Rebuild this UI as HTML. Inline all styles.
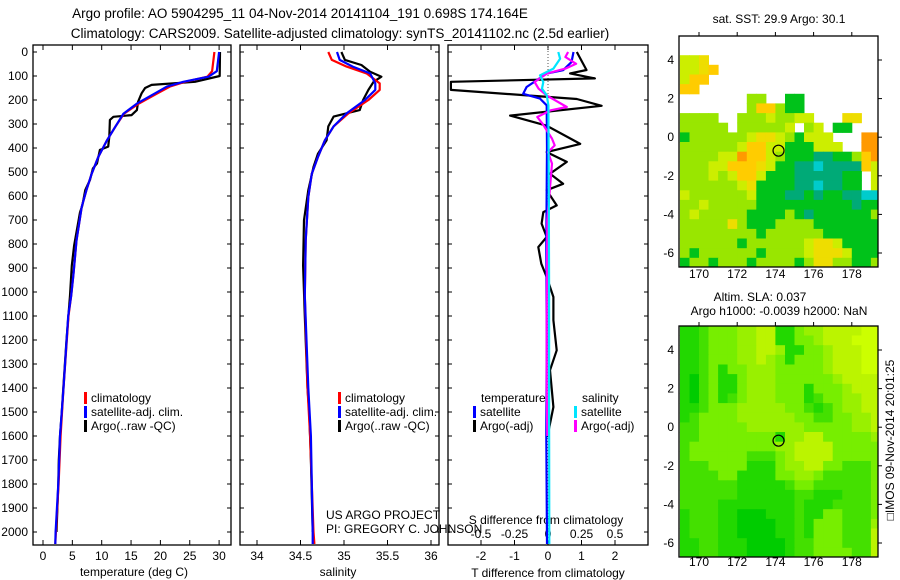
<!DOCTYPE html>
<html><head><meta charset="utf-8"><style>
html,body{margin:0;padding:0;background:#fff;}
svg{display:block;font-family:"Liberation Sans",sans-serif;}
text{fill:#000;}
</style></head><body>
<svg id="chart" width="900" height="580" viewBox="0 0 900 580" xmlns="http://www.w3.org/2000/svg">
<defs>
<clipPath id="c1"><rect x="33" y="45" width="198" height="500"/></clipPath>
<clipPath id="c2"><rect x="240" y="45" width="199" height="500"/></clipPath>
<clipPath id="c3"><rect x="448" y="45" width="200" height="500"/></clipPath>
<clipPath id="cm1"><rect x="679" y="36" width="199" height="231"/></clipPath>
<clipPath id="cm2"><rect x="679" y="326" width="199" height="231"/></clipPath>
</defs>
<text x="300" y="18" font-size="13.5" text-anchor="middle">Argo profile: AO 5904295_11 04-Nov-2014 20141104_191 0.698S 174.164E</text>
<text x="340" y="38" font-size="13.5" text-anchor="middle">Climatology: CARS2009. Satellite-adjusted climatology: synTS_20141102.nc (2.5d earlier)</text>
<text x="779" y="23" font-size="12" text-anchor="middle">sat. SST: 29.9 Argo: 30.1</text>
<text x="760" y="301" font-size="12" text-anchor="middle">Altim. SLA: 0.037</text>
<text x="779" y="315" font-size="12" text-anchor="middle">Argo h1000: -0.0039 h2000: NaN</text>
<text transform="translate(894,440) rotate(-90)" font-size="12" text-anchor="middle">□IMOS 09-Nov-2014 20:01:25</text>
<text x="326" y="519" font-size="12">US ARGO PROJECT</text>
<text x="326" y="533" font-size="12">PI: GREGORY C. JOHNSON</text>
</svg>
<script>
// ---------- data ----------
const depthTicks = [0,100,200,300,400,500,600,700,800,900,1000,1100,1200,1300,1400,1500,1600,1700,1800,1900,2000];
const tempTicks = [0,5,10,15,20,25,30];
const salTicks = [34,34.5,35,35.5,36];
const dTTicks = [-2,-1,0,1,2];
const dSTicks = [-0.5,-0.25,0,0.25,0.5];
const dSTickLabels = ["-0.5","-0.25","0","0.25","0.5"];
const lonTicks = [170,172,174,176,178];
const latTicks = [4,2,0,-2,-4,-6];

const argoTempDepth = [0,100,124,137,150,172,207,242,263,270,283,353,394,408,464,485,533,575,640,668,807,890,1015,1200,1400,1500,1600,1700,1800,1900,2000];
const argoTemp =      [30.15,30.1,25.9,18.5,17.4,16.8,16.2,16.0,15.1,12.0,11.4,11.3,11.1,9.7,9.2,8.5,8.0,7.2,6.7,6.3,5.3,4.9,4.6,4.0,3.46,3.2,2.9,2.7,2.6,2.45,2.3];
const climDepth = [0,80,103,124,144,172,215,257,312,368,438,507,576,646,785,924,1015,1100,1400,1600,1800,2000,2050];
const satTemp =   [30.0,29.6,28.2,23.9,21.1,19.1,16.0,13.7,12.3,10.9,9.4,8.3,7.4,6.6,5.7,5.2,4.8,4.3,3.5,2.9,2.6,2.15,2.1];
const climTemp =  [29.2,28.8,28.0,24.2,21.6,19.5,16.3,13.8,12.3,10.9,9.4,8.3,7.4,6.6,5.7,5.2,4.8,4.35,3.5,3.0,2.65,2.2,2.1];

const argoSalDepth = [0,33,54,82,103,124,158,200,242,269,310,368,424,479,576,701,890,1100,1400,1500,1700,2000];
const argoSal =      [34.97,35.01,35.2,35.3,35.43,35.34,35.28,35.22,35.18,34.88,34.82,34.8,34.70,34.65,34.59,34.54,34.53,34.55,34.58,34.6,34.62,34.64];
const salDepth = [0,33,61,89,131,158,200,256,310,368,438,507,604,785,1015,1400,1600,1800,2000,2050];
const satSal =   [34.92,34.95,35.1,35.3,35.36,35.36,35.24,35.03,34.88,34.78,34.7,34.63,34.59,34.56,34.55,34.59,34.62,34.63,34.64,34.64];
const climSal =  [34.82,34.86,35.03,35.26,35.41,35.41,35.28,35.05,34.88,34.78,34.7,34.63,34.59,34.56,34.55,34.58,34.61,34.63,34.65,34.66];

const argoDTDepth = [0,75,89,110,124,158,196,224,265,307,383,417,458,507,549,576,639,667,715,771,813,882,938,1021,1118,1243,1326,1479,1604];
const argoDT =      [0.86,1.15,0.66,1.4,-2.9,-2.9,0.86,1.6,-1.13,-0.04,0.96,-0.04,0.56,0.06,0.45,-0.04,0.26,-0.14,-0.19,-0.04,-0.29,-0.2,-0.04,0.16,0.16,0.26,0.06,0.16,-0.02];
const satDTDepth = [0,42,76,90,118,146,174,194,222,400,800,1200,1600,2050];
const satDT =      [0.76,0.7,0.45,-0.04,-0.34,-0.64,-0.74,-0.24,-0.04,-0.03,-0.05,-0.04,-0.05,-0.03];
const satDSDepth = [0,28,69,97,125,153,180,222,600,1000,1500,2050];
const satDS =      [0.077,0.09,0.04,-0.06,-0.035,-0.045,-0.01,0.003,0.006,0.008,0.008,0.01];
const argoDSDepth = [0,21,49,69,90,125,153,181,229,243,271,299,361,389,417,465,700,1100,1400,1600];
const argoDS =      [0.15,0.13,0.21,0.13,-0.01,-0.1,-0.07,-0.01,0.14,0.02,-0.08,-0.04,0.03,0.05,0.0,0.03,-0.005,-0.01,-0.01,-0.005];

const sstRows = [
".....................",
".....................",
"aae..................",
"aaeY.................",
"aYY..................",
"YY...................",
".......bb..GG........",
".......bYYbGG........",
"bbbb..bbbabbaa...ee..",
"bbbbb.bbbbba.ba.GG...",
"GbbbbbbaeeabGaaa...oo",
"bbbbbbaYYaaGGGaaa..oo",
"bbbbaaoYYabGGGttGGbYo",
"bbbaaYYYeaGGttcttttYa",
"bbbabaYYaGGGtttttGG.a",
"bbbbbbaeGGGGttcttGG.a",
"abbbbbbaGGGttGtGGttcc",
"bbabbbbbGGGGGGGGGGtGG",
"babbbbbGGGGbGtGGGGGGb",
"bbbbbebGGGbbbbGGGGGGG",
"bbbbbbbbGbbbbbbGGGGGG",
"bbbbbbGbbbbbbaeeaGGGG",
"bGbbbbbbGbbbbaeeeaGGG",
"GbbGbbbGbbbbGbeebbGGb"];
const slaRows = [
"223444556622455666677",
"223444556622445666777",
"223444556652244566677",
"223444556542444566677",
"223424455544444566677",
"213422455544444456666",
"213422455544424445666",
"213423455544423445566",
"223444555554432345566",
"234444555555443344556",
"334444455555544444556",
"334444444425566444445",
"344444444455666644444",
"344444433345666644444",
"333444422245566443334",
"333344222244554333334",
"333333222223443333334",
"333333222222332223334",
"333322222222322233334",
"233322111222322443334",
"233322111122324443335",
"233322111122324443336",
"223322211112334443336",
"223322211112334444336"];
const gridLon0 = 169.0, gridLat0 = 5.25, gridStep = 0.5;
const argoLon = 174.164, argoLat = -0.698;

// ---------- helpers ----------
const NS = "http://www.w3.org/2000/svg";
const svg = document.getElementById('chart');
function mk(tag, attrs, parent) {
  const el = document.createElementNS(NS, tag);
  for (const k in attrs) el.setAttribute(k, attrs[k]);
  (parent || svg).appendChild(el);
  return el;
}
const yD = d => 52 + d * 0.24;
const xT = t => 43 + t * 5.87;
const xS = s => 257 + (s - 34) * 87;
const xdT = t => 548 + t * 33.5;
const xdS = s => 548 + s * 134;
const mapX = lon => 699 + (lon - 170) * 19.1;
const mapY1 = lat => 60 + (4 - lat) * 19.3;
const mapY2 = lat => 350 + (4 - lat) * 19.3;

function frame(x, y, w, h, name) {
  const r = mk('rect', {x:x, y:y, width:w, height:h, fill:'none', stroke:'#000', 'stroke-width':1.3});
  
  
}
function line(xs, ys, color, clip, name, w) {
  const g = mk('g', {'clip-path':'url(#' + clip + ')'});
  const p = xs.map((x, i) => (i ? 'L' : 'M') + x.toFixed(1) + ',' + ys[i].toFixed(1)).join('');
  const el = mk('path', {d:p, fill:'none', stroke:color, 'stroke-width':w || 2.2, 'stroke-linejoin':'round'}, g);
  
  
}
function label(x, y, s, anchor, name, size) {
  const t = mk('text', {x:x, y:y, 'font-size':size || 12, 'text-anchor':anchor || 'middle'});
  t.textContent = s;
  
  
  return t;
}
function tick(x1, y1, x2, y2, name) {
  const t = mk('line', {x1:x1, y1:y1, x2:x2, y2:y2, stroke:'#000', 'stroke-width':1});
  
  
}

// ---------- profile panels ----------
const panels = [[33,231],[240,439],[448,648]];
panels.forEach((p, i) => {
  frame(p[0], 45, p[1] - p[0], 500, 'panel-' + (i + 1) + '-frame');
  depthTicks.forEach(d => {
    tick(p[0], yD(d), p[0] + 4, yD(d), 'depth-tick');
    tick(p[1] - 4, yD(d), p[1], yD(d), 'depth-tick');
  });
});
depthTicks.forEach(d => label(28, yD(d) + 4, String(d), 'end', 'depth-tick-label'));
tempTicks.forEach(t => {
  tick(xT(t), 45, xT(t), 50, 'temp-tick');
  tick(xT(t), 540, xT(t), 545, 'temp-tick');
  label(xT(t), 560, String(t), 'middle', 'temp-tick-label');
});
label(134, 576, 'temperature (deg C)', 'middle', 'x-axis-title-temperature');
salTicks.forEach(s => {
  tick(xS(s), 45, xS(s), 50, 'salinity-tick');
  tick(xS(s), 540, xS(s), 545, 'salinity-tick');
  label(xS(s), 560, String(s), 'middle', 'salinity-tick-label');
});
label(338, 576, 'salinity', 'middle', 'x-axis-title-salinity');
dTTicks.forEach(t => {
  tick(xdT(t), 45, xdT(t), 50, 'tdiff-tick');
  tick(xdT(t), 540, xdT(t), 545, 'tdiff-tick');
  label(xdT(t), 560, String(t), 'middle', 'tdiff-tick-label');
});
label(548, 577, 'T difference from climatology', 'middle', 'x-axis-title-tdiff');
dSTicks.forEach((s, i) => label(xdS(s), 538, dSTickLabels[i], 'middle', 'sdiff-tick-label'));
label(546, 524, 'S difference from climatology', 'middle', 'x-axis-title-sdiff');
const zl = mk('line', {x1:548, y1:45, x2:548, y2:545, stroke:'#555', 'stroke-width':1, 'stroke-dasharray':'1,2'});



// temperature
line(argoTemp.map(xT), argoTempDepth.map(yD), '#000', 'c1', 'argo-temperature-line');
line(climTemp.map(xT), climDepth.map(yD), '#ff0000', 'c1', 'climatology-temperature-line');
line(satTemp.map(xT), climDepth.map(yD), '#0000ff', 'c1', 'satellite-temperature-line');
// salinity
line(argoSal.map(xS), argoSalDepth.map(yD), '#000', 'c2', 'argo-salinity-line');
line(climSal.map(xS), salDepth.map(yD), '#ff0000', 'c2', 'climatology-salinity-line');
line(satSal.map(xS), salDepth.map(yD), '#0000ff', 'c2', 'satellite-salinity-line');
// differences
line(argoDT.map(xdT), argoDTDepth.map(yD), '#000', 'c3', 'argo-tdiff-line');
line(satDT.map(xdT), satDTDepth.map(yD), '#0000ff', 'c3', 'satellite-tdiff-line');
line(argoDS.map(xdS), argoDSDepth.map(yD), '#ff00ff', 'c3', 'argo-sdiff-line');
line(satDS.map(xdS), satDSDepth.map(yD), '#00e5ff', 'c3', 'satellite-sdiff-line');

// legends
function legendEntry(x, y, color, text, name) {
  const b = mk('rect', {x:x, y:y - 10, width:3, height:12, fill:color});
  
  
  label(x + 7, y, text, 'start', name);
}
[[84,'p1'],[338,'p2']].forEach(l => {
  legendEntry(l[0], 402, '#ff0000', 'climatology', 'legend-entry-climatology');
  legendEntry(l[0], 416, '#0000ff', 'satellite-adj. clim.', 'legend-entry-satellite');
  legendEntry(l[0], 430, '#000', 'Argo(..raw -QC)', 'legend-entry-argo');
});
label(481, 402, 'temperature', 'start', 'legend-heading-temperature');
label(582, 402, 'salinity', 'start', 'legend-heading-salinity');
legendEntry(473, 416, '#0000ff', 'satellite', 'legend-entry-temp-satellite');
legendEntry(473, 430, '#000', 'Argo(-adj)', 'legend-entry-temp-argo');
legendEntry(574, 416, '#00e5ff', 'satellite', 'legend-entry-sal-satellite');
legendEntry(574, 430, '#ff00ff', 'Argo(-adj)', 'legend-entry-sal-argo');

// ---------- maps ----------
const sstColors = {a:'#ccee00', b:'#99e600', g:'#33cc00', G:'#00c21a', t:'#00aa77', c:'#00cccc', Y:'#ffcc00', o:'#ff9900', e:'#eedd00'};
const slaColors = {'1':'#00cc00','2':'#22d800','3':'#44e000','4':'#77ee00','5':'#99f000','6':'#bbf400','7':'#ccff00'};
function drawMap(rows, colors, yf, clip, name) {
  const g = mk('g', {'clip-path':'url(#' + clip + ')'});
  
  
  rows.forEach((row, r) => {
    for (let c = 0; c < row.length; c++) {
      const col = colors[row[c]];
      if (!col) continue;
      const lon = gridLon0 + c * gridStep, lat = gridLat0 - r * gridStep;
      const x0 = mapX(lon), y0 = yf(lat);
      const cell = mk('rect', {x:x0.toFixed(1), y:y0.toFixed(1), width:(mapX(lon + gridStep) - x0 + 0.5).toFixed(1), height:(yf(lat - gridStep) - y0 + 0.5).toFixed(1), fill:col}, g);
      
      
    }
  });
  const circ = mk('circle', {cx:mapX(argoLon), cy:yf(argoLat), r:5.5, fill:'none', stroke:'#000', 'stroke-width':1.2}, g);
  
  
}
drawMap(sstRows, sstColors, mapY1, 'cm1', 'sst-map');
drawMap(slaRows, slaColors, mapY2, 'cm2', 'sla-map');
[[36, mapY1, 278, 'sst'], [326, mapY2, 566, 'sla']].forEach(m => {
  frame(679, m[0], 199, 231, m[3] + '-map-frame');
  lonTicks.forEach(lon => {
    tick(mapX(lon), m[0] - 4, mapX(lon), m[0], m[3] + '-lon-tick');
    label(mapX(lon), m[2], String(lon), 'middle', m[3] + '-lon-label');
  });
  latTicks.forEach(lat => {
    tick(878, m[1](lat), 882, m[1](lat), m[3] + '-lat-tick');
    label(674, m[1](lat) + 4, String(lat), 'end', m[3] + '-lat-label');
  });
});
</script>
</body></html>
